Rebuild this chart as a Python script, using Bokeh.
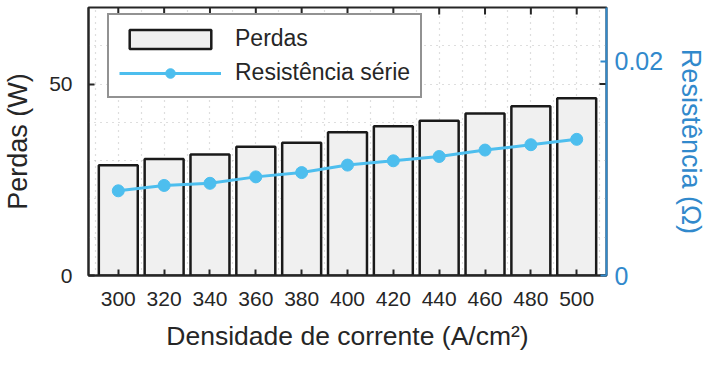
import math
from bokeh.plotting import figure
from bokeh.models import Range1d, LinearAxis, FixedTicker, Legend, LegendItem, ColumnDataSource
from bokeh.embed import file_html
from bokeh.resources import INLINE

densidade = [300, 320, 340, 360, 380, 400, 420, 440, 460, 480, 500]
perdas = [28.8, 30.4, 31.6, 33.6, 34.7, 37.4, 39.0, 40.4, 42.3, 44.2, 46.3]
resistencia = [0.0079, 0.0084, 0.0086, 0.0092, 0.0096, 0.0103, 0.0107, 0.0111,
               0.0117, 0.0122, 0.0127]
left_ticks = [0, 50]
right_ticks = [0, 0.02]

FONT = "Liberation Sans"
DARK = "#262626"
BLUE = "#3189cc"
LINE = "#4dbeee"

src = ColumnDataSource(dict(x=densidade, p=perdas, r=resistencia))

p = figure(width=709, height=369, output_backend="svg", toolbar_location=None,
           x_range=Range1d(287, 513), y_range=Range1d(0, 70),
           min_border_left=88, min_border_right=102, min_border_top=7,
           min_border_bottom=94, outline_line_color=DARK, outline_line_width=2,
           background_fill_color="white", border_fill_color="white")
p.extra_y_ranges = {"r": Range1d(0, 0.025)}

# dotted grid
p.xgrid.ticker = FixedTicker(ticks=list(range(290, 520, 10)))
p.ygrid.ticker = FixedTicker(ticks=list(range(10, 71, 10)))
for g in (p.xgrid[0], p.ygrid[0]):
    g.grid_line_color = "#bdbdbd"
    g.grid_line_dash = "1 5"
    g.grid_line_width = 1.2

bars = p.vbar(x="x", top="p", width=17, source=src, fill_color="#f0f0f0",
              line_color="#1a1a1a", line_width=2.5)
ln = p.line(x="x", y="r", source=src, y_range_name="r", line_color=LINE,
            line_width=3)
pts = p.scatter(x="x", y="r", source=src, y_range_name="r", size=12,
                fill_color=LINE, line_color=LINE)

# mirrored tick marks on the top edge and on the right edge
p.scatter(x=densidade, y=[p.y_range.end] * len(densidade), marker="dash",
          angle=math.pi / 2, size=14, line_color=DARK, line_width=2)
p.scatter(x=[p.x_range.end] * len(left_ticks), y=left_ticks, marker="dash",
          size=14, line_color=DARK, line_width=2)

xa = p.xaxis[0]
xa.ticker = FixedTicker(ticks=densidade)
xa.axis_label = "Densidade de corrente (A/cm²)"
ya = p.yaxis[0]
ya.ticker = FixedTicker(ticks=left_ticks)
ya.axis_label = "Perdas (W)"
ra = LinearAxis(y_range_name="r", ticker=FixedTicker(ticks=right_ticks),
                axis_label="Resistência (Ω)")
p.add_layout(ra, "right")

for ax in (xa, ya, ra):
    ax.axis_line_color = DARK
    ax.axis_line_width = 2
    ax.major_tick_line_color = DARK
    ax.major_tick_line_width = 2
    ax.major_tick_in = 6
    ax.major_tick_out = 0
    ax.minor_tick_line_color = None
    ax.major_label_text_font = FONT
    ax.major_label_text_font_size = "21px"
    ax.major_label_text_color = DARK
    ax.axis_label_text_font = FONT
    ax.axis_label_text_font_size = "27px"
    ax.axis_label_text_font_style = "normal"
    ax.axis_label_text_color = DARK

xa.axis_label_text_font_size = "26.5px"
xa.major_label_standoff = 16
xa.axis_label_standoff = 12
ya.major_label_standoff = 16
ya.axis_label_standoff = 13
ra.major_label_standoff = 8
ra.axis_label_standoff = 10
ra.major_label_text_font_size = "25px"
ra.axis_line_color = BLUE
ra.major_tick_line_color = BLUE
ra.major_label_text_color = BLUE
ra.axis_label_text_color = BLUE

legend = Legend(items=[LegendItem(label="Perdas", renderers=[bars]),
                       LegendItem(label="Resistência série", renderers=[ln, pts])],
                location=(19, 177), orientation="vertical",
                glyph_width=102, glyph_height=24, label_standoff=14,
                spacing=7, padding=10, margin=0,
                border_line_color=DARK, border_line_width=2,
                background_fill_color="white", background_fill_alpha=1,
                label_text_font=FONT, label_text_font_size="23px",
                label_text_color=DARK)
p.add_layout(legend, "center")

open("out.html", "w").write(file_html(p, INLINE))
